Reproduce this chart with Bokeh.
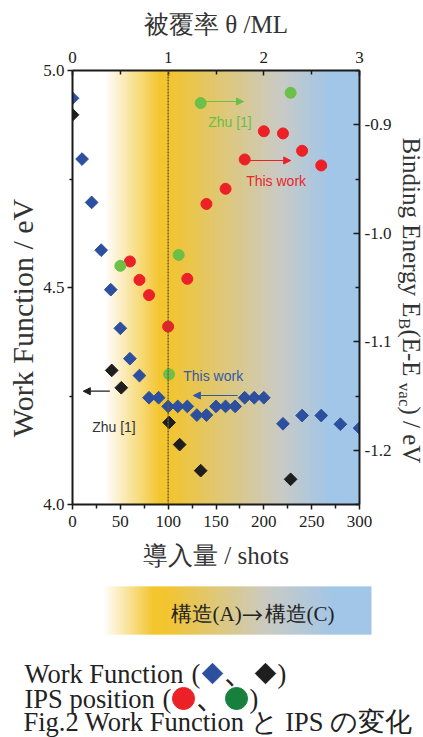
import numpy as np
from math import pi
from bokeh.plotting import figure
from bokeh.models import Range1d, LinearAxis, FixedTicker, Label, Arrow, NormalHead, Span
from bokeh.layouts import column, row
from bokeh.embed import file_html
from bokeh.resources import INLINE

# ---------------- data ----------------
shots_blue = [0, 10, 20, 30, 40, 50, 60, 70, 80, 90, 100, 110, 120, 130, 140, 150, 160, 170, 180, 190, 200, 220, 240, 260, 280, 300]
wf_blue = [4.936, 4.796, 4.696, 4.586, 4.495, 4.406, 4.336, 4.297, 4.246, 4.246, 4.226, 4.226, 4.226, 4.206, 4.206,
           4.226, 4.226, 4.226, 4.246, 4.246, 4.246, 4.186, 4.205, 4.205, 4.185, 4.176]
shots_black = [0, 41, 51, 101, 112, 134, 228]
wf_black = [4.898, 4.309, 4.269, 4.189, 4.138, 4.078, 4.058]
shots_red = [60, 70, 80, 100, 120, 140, 160, 180, 200, 220, 240, 260]
be_red = [-1.026, -1.043, -1.057, -1.086, -1.042, -0.973, -0.959, -0.932, -0.906, -0.908, -0.924, -0.9375]
shots_green = [50, 101, 111, 134, 228]
be_green = [-1.030, -1.130, -1.020, -0.880, -0.8705]

x_ticks = [0, 50, 100, 150, 200, 250, 300]
x_minor = [25, 75, 125, 175, 225, 275]
theta_ticks = [0, 1, 2, 3]
theta_minor = [0.5, 1.5, 2.5]
wf_ticks = [4.0, 4.5, 5.0]
wf_minor = [4.25, 4.75]
be_ticks = [-1.2, -1.1, -1.0, -0.9]
be_minor = [-1.25, -1.15, -1.05, -0.95, -0.85]

# ---------------- style ----------------
SERIF = "Liberation Serif"
CJK = "Noto Sans CJK JP"
SANS = "Liberation Sans"
C_BLUE = "#2c4f9e"
C_BLACK = "#1e1e1e"
C_RED = "#ec2027"
C_GREEN = "#6cbf47"
C_GREEN_DARK = "#16803c"
AX = "#1a1a1a"
TXT = "#333333"

W_TOTAL = 423
H_TOTAL = 737
H1 = 580            # top row height
H2 = H_TOTAL - H1   # bottom panel height
FRAME_L, FRAME_T, FRAME_R, FRAME_B = 70, 70, 362, 504   # page px
WL = 40             # left title strip
WR = 29             # right title strip
WM = W_TOTAL - WL - WR

def sx(px):
    return (px - FRAME_L) * 300.0 / (FRAME_R - FRAME_L)
def swf(py):
    return 5.0 - (py - FRAME_T) * 1.0 / (FRAME_B - FRAME_T)
def sbe(py):
    return -0.85 - (py - FRAME_T) * 0.4 / (FRAME_B - FRAME_T)

p = figure(width=WM, height=H1, x_range=Range1d(0, 300), y_range=Range1d(4.0, 5.0),
           output_backend="svg", toolbar_location=None, title=None,
           min_border_left=FRAME_L - WL, min_border_top=FRAME_T,
           min_border_right=WL + WM - FRAME_R, min_border_bottom=H1 - FRAME_B)
p.extra_x_ranges = {"theta": Range1d(0, 3)}
p.extra_y_ranges = {"be": Range1d(-1.25, -0.85)}
p.grid.visible = False
p.outline_line_color = None
p.background_fill_color = "white"
p.border_fill_color = "white"

# ---- background gradient ----
stop_x = [0, 34, 92, 100, 216, 268, 300]
stop_rgb = np.array([(255, 255, 255), (255, 255, 255), (243, 197, 46), (243, 197, 46),
                     (203, 203, 196), (162, 198, 232), (162, 198, 232)], dtype=float)
n = 146
edges = np.linspace(0, 300, n + 1)
mids = 0.5 * (edges[:-1] + edges[1:])
cols = ["#%02x%02x%02x" % tuple(int(np.interp(m, stop_x, stop_rgb[:, k])) for k in range(3)) for m in mids]
step = edges[1] - edges[0]
p.quad(left=edges[:-1], right=edges[1:] + step * 0.6, bottom=4.0, top=5.0, fill_color=cols, line_color=None)

# ---- axes ----
def style_axis(ax, fs="17px"):
    ax.axis_line_width = 2
    ax.axis_line_color = AX
    ax.major_tick_line_color = AX
    ax.minor_tick_line_color = AX
    ax.major_tick_line_width = 1.5
    ax.minor_tick_line_width = 1.5
    ax.major_label_text_font = SERIF
    ax.major_label_text_font_size = fs
    ax.major_label_text_color = "#222222"
    ax.axis_label_text_font = SERIF
    ax.axis_label_text_font_size = "25px"
    ax.axis_label_text_font_style = "normal"
    ax.axis_label_text_color = TXT

xb = p.xaxis[0]
xb.ticker = FixedTicker(ticks=x_ticks, minor_ticks=x_minor)
style_axis(xb)
xb.major_tick_in, xb.major_tick_out = 0, 5
xb.minor_tick_in, xb.minor_tick_out = 0, 4
xb.major_label_standoff = 6
xb.axis_label = "導入量 / shots"
xb.axis_label_standoff = 12
xb.major_label_overrides = {t: str(t) for t in x_ticks}

yl = p.yaxis[0]
yl.ticker = FixedTicker(ticks=wf_ticks, minor_ticks=wf_minor)
style_axis(yl)
yl.major_tick_in, yl.major_tick_out = 0, 5
yl.minor_tick_in, yl.minor_tick_out = 0, 3
yl.major_label_standoff = 3
yl.major_label_overrides = {4.0: "4.0", 4.5: "4.5", 5.0: "5.0"}

xt = LinearAxis(x_range_name="theta", ticker=FixedTicker(ticks=theta_ticks, minor_ticks=theta_minor))
style_axis(xt)
xt.major_tick_in, xt.major_tick_out = 5, 0
xt.minor_tick_in, xt.minor_tick_out = 4, 0
xt.major_label_standoff = 8
xt.axis_label = "被覆率 θ /ML"
xt.axis_label_standoff = 11
xt.major_label_overrides = {t: str(t) for t in theta_ticks}
p.add_layout(xt, "above")

yr = LinearAxis(y_range_name="be", ticker=FixedTicker(ticks=be_ticks, minor_ticks=be_minor))
style_axis(yr)
yr.major_tick_in, yr.major_tick_out = 6, 0
yr.minor_tick_in, yr.minor_tick_out = 4, 0
yr.major_label_standoff = 5
yr.major_label_overrides = {-1.2: "-1.2", -1.1: "-1.1", -1.0: "-1.0", -0.9: "-0.9"}
p.add_layout(yr, "right")

# ---- data marks ----
p.scatter(shots_blue, wf_blue, marker="square", angle=pi / 4, size=9, fill_color=C_BLUE, line_color=C_BLUE)
p.scatter(shots_black, wf_black, marker="square", angle=pi / 4, size=9, fill_color=C_BLACK, line_color=C_BLACK)
p.scatter(shots_red, be_red, y_range_name="be", marker="circle", size=11, fill_color=C_RED, line_color=C_RED)
p.scatter(shots_green, be_green, y_range_name="be", marker="circle", size=11, fill_color=C_GREEN, line_color=C_GREEN)

p.add_layout(Span(location=100, dimension="height", line_color="#6b5d3e", line_dash="2 1", line_width=1.5))

# ---- arrows & annotations ----
def arrow(x0, y0, x1, y1, c, yr_name="default"):
    p.add_layout(Arrow(end=NormalHead(size=7, fill_color=c, line_color=c), x_start=x0, y_start=y0, x_end=x1, y_end=y1,
                       line_color=c, line_width=1.2, y_range_name=yr_name))

arrow(shots_green[3], sbe(101), sx(244), sbe(101), C_GREEN, "be")
arrow(shots_red[7], sbe(160), sx(292), sbe(160), C_RED, "be")
arrow(sx(238), swf(395), sx(193), swf(395), "#3458a8")
arrow(sx(108), swf(390.7), sx(81), swf(390.7), C_BLACK)

def lab(x, y, t, c, yr_name="default"):
    p.add_layout(Label(x=x, y=y, text=t, text_color=c, text_font=SANS, text_font_size="14px",
                       text_baseline="middle", text_align="left", y_range_name=yr_name))

lab(sx(208), sbe(121.7), "Zhu [1]", "#66bf4a", "be")
lab(sx(246.7), sbe(180), "This work", "#e8262b", "be")
lab(sx(182.7), swf(375.3), "This work", "#3458a8")
lab(sx(90), swf(426), "Zhu [1]", TXT)

# ---------------- left title strip ----------------
pl = figure(width=WL, height=H1, x_range=Range1d(0, WL), y_range=Range1d(4.0, 5.0),
            output_backend="svg", toolbar_location=None, title=None,
            x_axis_location=None, y_axis_location=None,
            min_border_left=0, min_border_right=0, min_border_top=FRAME_T, min_border_bottom=H1 - FRAME_B)
pl.grid.visible = False
pl.outline_line_color = None
pl.add_layout(Label(x=22, y=swf(317.5), text="Work Function / eV", angle=pi / 2, text_align="center",
                    text_baseline="middle", text_font=SERIF, text_font_size="30px", text_color=TXT))

# ---------------- right title strip (with subscripts) ----------------
X0R = W_TOTAL - WR
pr = figure(width=WR, height=H1, x_range=Range1d(X0R, W_TOTAL), y_range=Range1d(-1.25, -0.85),
            output_backend="svg", toolbar_location=None, title=None,
            x_axis_location=None, y_axis_location=None,
            min_border_left=0, min_border_right=0, min_border_top=FRAME_T, min_border_bottom=H1 - FRAME_B)
pr.grid.visible = False
pr.outline_line_color = None

TW = {' ': 250, '(': 333, ')': 333, '-': 333, '/': 278, 'B': 667, 'E': 611, 'V': 722, 'a': 444, 'c': 444,
      'd': 500, 'e': 444, 'g': 500, 'i': 278, 'n': 500, 'r': 333, 'v': 500, 'y': 500}
def tw(s, size):
    return sum(TW[ch] for ch in s) * size / 1000.0

pieces = [("Binding Energy E", 25, 410.5), ("B", 17, 404.0), (" (E-E", 25, 410.5), ("vac", 17, 404.0), (") / eV", 25, 410.5)]
py = 137.0
for txt, fs, xm in pieces:
    pr.add_layout(Label(x=xm, y=sbe(py), text=txt, angle=-pi / 2,
                        text_align="left", text_baseline="middle", text_font=SERIF,
                        text_font_size="%dpx" % fs, text_color=TXT))
    py += tw(txt, fs)

# ---------------- lower panel: structure bar + caption ----------------
Y0 = H1
p2 = figure(width=W_TOTAL, height=H2, x_range=Range1d(0, W_TOTAL), y_range=Range1d(H2, 0),
            output_backend="svg", toolbar_location=None, title=None,
            x_axis_location=None, y_axis_location=None, min_border=0)
p2.grid.visible = False
p2.outline_line_color = None

bar_stop_x = [103, 153, 165, 267, 335, 371]
bar_stop_rgb = np.array([(255, 255, 255), (243, 197, 46), (243, 197, 46), (203, 203, 196),
                         (162, 198, 232), (162, 198, 232)], dtype=float)
nb = 134
b_edges = np.linspace(103, 371, nb + 1)
bm = 0.5 * (b_edges[:-1] + b_edges[1:])
bcols = ["#%02x%02x%02x" % tuple(int(np.interp(m, bar_stop_x, bar_stop_rgb[:, k])) for k in range(3)) for m in bm]
bstep = b_edges[1] - b_edges[0]
right_edges = np.minimum(b_edges[1:] + bstep * 0.6, 371)
p2.quad(left=b_edges[:-1], right=right_edges, top=586 - Y0, bottom=634 - Y0, fill_color=bcols, line_color=None)

def t2(x, y, t, font=SERIF, fs="26.5px", align="left"):
    p2.add_layout(Label(x=x, y=y - Y0, text=t, text_align=align, text_baseline="middle",
                        text_font=font, text_font_size=fs, text_color="#222222"))

t2(170, 613, "構造(A)", fs="21px")
t2(252, 613, "→", font=CJK, fs="21px", align="center")
t2(264, 613, "構造(C)", fs="21px")

t2(24, 673, "Work Function")
t2(191, 673, "(")
t2(224, 673, "、", font=CJK)
t2(277, 673, ")")
t2(24, 698, "IPS position")
t2(162, 698, "(")
t2(196, 698, "、", font=CJK)
t2(249, 698, ")")
t2(23, 721, "Fig.2 Work Function と IPS の変化")

p2.scatter([212], [673 - Y0], marker="square", angle=pi / 4, size=14.5, fill_color=C_BLUE, line_color=C_BLUE)
p2.scatter([265], [673 - Y0], marker="square", angle=pi / 4, size=14.5, fill_color=C_BLACK, line_color=C_BLACK)
p2.scatter([183], [698 - Y0], marker="circle", size=22, fill_color=C_RED, line_color=C_RED)
p2.scatter([236], [698 - Y0], marker="circle", size=22, fill_color=C_GREEN_DARK, line_color=C_GREEN_DARK)

layout = column(row(pl, p, pr), p2)
open("out.html", "w").write(file_html(layout, INLINE))
